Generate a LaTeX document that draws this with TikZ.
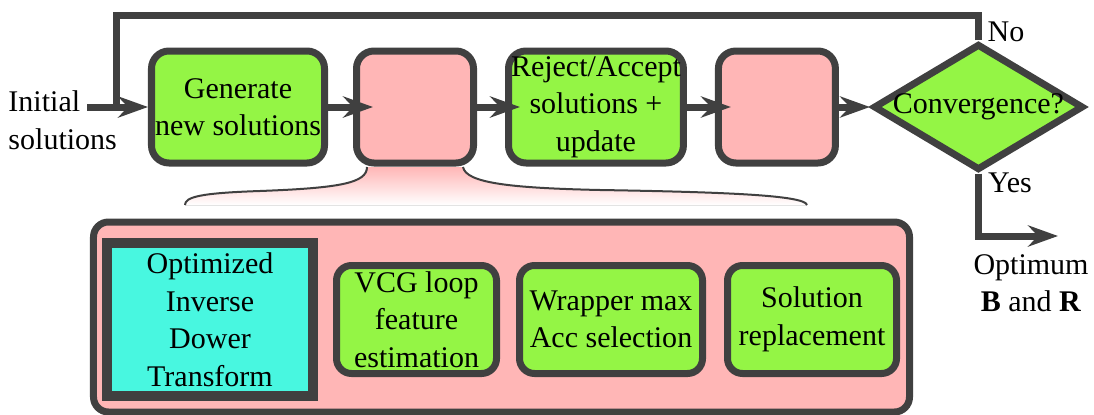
\documentclass[tikz,border=0pt]{standalone}
\usepackage{fontspec}
\setmainfont{Liberation Serif}
\usepackage{xcolor}
\usetikzlibrary{arrows.meta,positioning,shapes.geometric,calc}

\definecolor{stepgreen}{HTML}{94F545}
\definecolor{stagepink}{HTML}{FFB6B6}
\definecolor{idtcyan}{HTML}{48F7E0}
\definecolor{edgegray}{HTML}{404040}

\begin{document}
\begin{tikzpicture}[
  x=0.4pt, y=-0.4pt,
  font=\fontsize{12}{15}\selectfont,
  node distance=10pt,
  block/.style={draw=edgegray, line width=2.8pt, rounded corners=7pt, fill=stepgreen, minimum width=69.2pt, minimum height=44.8pt, inner sep=1pt, align=center},
  stage/.style={block, fill=stagepink, minimum width=46.8pt},
  decision/.style={draw=edgegray, line width=2.8pt, diamond, fill=stepgreen, minimum width=84pt, minimum height=44.8pt, inner sep=0pt},
  subblock/.style={block, rounded corners=6pt, minimum height=43.2pt},
  arrow/.style={draw=edgegray, line width=2.8pt, -{Stealth[length=12pt, width=8.5pt, inset=4pt]}},
  flowline/.style={draw=edgegray, line width=2.8pt},
  brace/.style={draw=edgegray, line width=0.8pt},
  label/.style={inner sep=0pt, align=center},
]
\useasboundingbox (0,0) rectangle (1094,414);

% Main loop (top row)
\node[label, align=left, anchor=west] (init) at (8,120) {Initial\\solutions};
\node[block] (gen) at (238,107) {Generate\\new solutions};
\node[stage, right=10pt of gen] (eval) {};
\node[block, right=11.2pt of eval] (accept) {Reject/Accept\\solutions +\\update};
\node[stage, right=11.2pt of accept] (refine) {};
\node[decision, right=12.4pt of refine] (conv) {\makebox[40pt][c]{Convergence?}};

\coordinate (start) at (87,107);
\coordinate (merge) at (116,107);
\coordinate (looptop) at (116,15);
\coordinate (exit) at (1058,236);

% Flow arrows
\draw[arrow] (start) -- (gen.west);
\draw[arrow] (gen.east) -- ([xshift=8pt]eval.west);
\draw[arrow] (eval.east) -- ([xshift=6pt]accept.west);
\draw[arrow] (accept.east) -- ([xshift=6.4pt]refine.west);
\draw[arrow] (refine.east) -- (conv.west);
\draw[flowline] (conv.north) |- (looptop) -- (merge);
\draw[arrow] (conv.south) |- (exit);

% Branch labels
\node[label] (no) at (1006,32) {No};
\node[label] (yes) at (1010,183) {Yes};
\node[label] (optimum) at (1031,283) {Optimum\\\textbf{B} and \textbf{R}};

% Zoom-in brace below the pink stage
\fill[top color=stagepink, bottom color=white]
  (367,167) .. controls (367,183) and (340,188) .. (260,191)
  .. controls (200,193) and (185,197) .. (185,205) -- (807,205)
  .. controls (805,195) and (720,192) .. (600,190)
  .. controls (510,188) and (466,183) .. (463,167) -- cycle;
\draw[brace] (367,167) .. controls (367,183) and (340,188) .. (260,191)
  .. controls (200,193) and (185,197) .. (185,205);
\draw[brace] (463,167) .. controls (466,183) and (510,188) .. (600,190)
  .. controls (720,192) and (805,195) .. (807,205);

% Detail of the stage
\node[draw=edgegray, line width=2.8pt, rounded corners=6pt, fill=stagepink, minimum width=326.4pt, minimum height=76pt] (detail) at (501.5,317) {};
\node[draw=edgegray, line width=4pt, fill=idtcyan, minimum width=82.4pt, minimum height=61.2pt, inner sep=1pt, align=center] (idt) at (210,319.5) {Optimized\\Inverse\\Dower\\Transform};
\node[subblock, minimum width=64pt, right=6pt of idt] (vcg) {VCG loop\\feature\\estimation};
\node[subblock, minimum width=73.2pt, right=6.4pt of vcg] (wrapper) {Wrapper max\\Acc selection};
\node[subblock, minimum width=67.6pt, right=7.2pt of wrapper] (replace) {Solution\\replacement};

\end{tikzpicture}
\end{document}
